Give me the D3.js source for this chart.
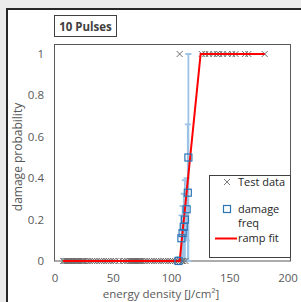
<!DOCTYPE html>
<html>
<head>
<meta charset="utf-8">
<script src="https://cdn.jsdelivr.net/npm/d3@7"></script>
<style>
	body { margin: 0; background: #ebebeb; }
	text { font-family: 'Open Sans', 'Noto Sans', sans-serif; }
</style>
</head>
<body>
<div class="container"></div>
<script>
// test shots that caused no damage (p = 0) and damage (p = 1)
var testZero = [7, 8, 9, 10, 10.5, 11, 12, 12.5, 13, 14, 15, 15.5, 16, 17, 18, 18.5, 19, 20, 21, 22, 23,
	24, 25, 27, 28, 30, 32, 34, 36, 38, 40, 42, 44, 46, 48, 50, 52, 55, 58, 60, 62, 64, 64.5, 65, 66,
	66.5, 67, 68, 68.5, 69, 70, 70.5, 71, 72, 72.5, 73, 74, 75, 77, 79, 81, 83, 85, 87, 89, 91, 93,
	95, 97, 99, 101, 103, 105, 107, 109, 110, 112];
var testOne = [107, 126, 129, 132, 136, 139, 141, 144, 148, 152, 155, 163, 166, 180];

// damage frequency with error bars
var freqEnergy = [106, 108.5, 109.5, 110.5, 111.5, 113, 114, 114.5];
var freqValue = [0, 0.11, 0.135, 0.165, 0.2, 0.25, 0.33, 0.5];
var freqErr = [0.02, 0.11, 0.13, 0.16, 0.19, 0.15, 0.33, 0.5];

// ramp fit
var rampEnergy = [7, 107, 125, 180];
var rampValue = [0, 0, 1, 1];

var xTicks = [0, 50, 100, 150, 200];
var yTicks = [0, 0.2, 0.4, 0.6, 0.8, 1];

var svg = d3
	.select('.container')
	.append('svg')
	.attr('width', 301)
	.attr('height', 302)
	.style('display', 'block');

// outer chart frame
svg.append('rect')
	.attr('x', 7)
	.attr('y', 9)
	.attr('width', 320)
	.attr('height', 320)
	.attr('fill', '#fff')
	.attr('stroke', '#262626')
	.attr('stroke-width', 2);

var x = d3.scaleLinear().domain([0, 200]).range([55, 288]);
var y = d3.scaleLinear().domain([0, 1]).range([261, 54]);

// plot area border
svg.append('rect')
	.attr('x', 54.5)
	.attr('y', 44.5)
	.attr('width', 236)
	.attr('height', 216.5)
	.attr('fill', 'none')
	.attr('stroke', '#595959')
	.attr('stroke-width', 1);

// tick labels
svg.append('g')
	.selectAll('text')
	.data(yTicks)
	.enter()
	.append('text')
	.attr('x', 44)
	.attr('y', function(d) {
		return y(d) + 4;
	})
	.attr('text-anchor', 'end')
	.attr('font-size', 11.5)
	.attr('fill', '#595959')
	.text(function(d) {
		return d;
	});

svg.append('g')
	.selectAll('text')
	.data(xTicks)
	.enter()
	.append('text')
	.attr('x', function(d) {
		return x(d);
	})
	.attr('y', 282)
	.attr('text-anchor', 'middle')
	.attr('font-size', 11.5)
	.attr('fill', '#595959')
	.text(function(d) {
		return d;
	});

// axis titles
svg.append('text')
	.attr('x', 161)
	.attr('y', 297.5)
	.attr('text-anchor', 'middle')
	.attr('font-size', 11.5)
	.attr('fill', '#595959')
	.text('energy density [J/cm²]');

svg.append('text')
	.attr('transform', 'translate(22, 157) rotate(-90)')
	.attr('text-anchor', 'middle')
	.attr('font-size', 12)
	.attr('fill', '#595959')
	.text('damage probability');

// title box
svg.append('rect')
	.attr('x', 54.5)
	.attr('y', 15.5)
	.attr('width', 62)
	.attr('height', 21)
	.attr('fill', '#fff')
	.attr('stroke', '#404040');

svg.append('text')
	.attr('x', 85.5)
	.attr('y', 30.5)
	.attr('text-anchor', 'middle')
	.attr('font-size', 11.5)
	.attr('font-weight', 'bold')
	.attr('fill', '#404040')
	.text('10 Pulses');

// error bars
var errs = svg.append('g')
	.attr('stroke', '#9dc3e6')
	.attr('stroke-width', 1.8)
	.attr('fill', 'none');

freqEnergy.forEach(function(e, i) {
	var lo = Math.max(0, freqValue[i] - freqErr[i]);
	var hi = Math.min(1, freqValue[i] + freqErr[i]);
	errs.append('path')
		.attr('d', 'M' + x(e) + ',' + y(lo) + 'V' + y(hi) +
			'M' + (x(e) - 3) + ',' + y(hi) + 'h6' +
			'M' + (x(e) - 3) + ',' + y(lo) + 'h6');
});

// test data crosses
var allTests = testZero.map(function(d) {
	return { e: d, p: 0 };
}).concat(testOne.map(function(d) {
	return { e: d, p: 1 };
}));

svg.append('g')
	.selectAll('path')
	.data(allTests)
	.enter()
	.append('path')
	.attr('d', function(d) {
		var cx = x(d.e), cy = y(d.p);
		return 'M' + (cx - 3) + ',' + (cy - 3) + 'l6,6M' + (cx - 3) + ',' + (cy + 3) + 'l6,-6';
	})
	.attr('stroke', '#6e6e6e')
	.attr('stroke-width', 1)
	.attr('fill', 'none');

// ramp fit
var line = d3.line()
	.x(function(d, i) {
		return x(rampEnergy[i]);
	})
	.y(function(d, i) {
		return y(rampValue[i]);
	});

svg.append('path')
	.attr('d', line(rampEnergy))
	.attr('stroke', '#ff0000')
	.attr('stroke-width', 2)
	.attr('fill', 'none');

// damage freq squares
svg.append('g')
	.selectAll('rect')
	.data(freqEnergy)
	.enter()
	.append('rect')
	.attr('x', function(d) {
		return x(d) - 3.5;
	})
	.attr('y', function(d, i) {
		return y(freqValue[i]) - 3.5;
	})
	.attr('width', 7)
	.attr('height', 7)
	.attr('fill', 'none')
	.attr('stroke', '#2e75b6')
	.attr('stroke-width', 1.2);

// legend
var leg = svg.append('g');
leg.append('rect')
	.attr('x', 209.5)
	.attr('y', 175.5)
	.attr('width', 81)
	.attr('height', 82)
	.attr('fill', '#fff')
	.attr('stroke', '#404040');

leg.append('path')
	.attr('d', 'M224,179l6,6M224,185l6,-6')
	.attr('stroke', '#7a7a7a')
	.attr('fill', 'none');
leg.append('rect')
	.attr('x', 223.5)
	.attr('y', 205.5)
	.attr('width', 7)
	.attr('height', 7)
	.attr('fill', 'none')
	.attr('stroke', '#2e75b6')
	.attr('stroke-width', 1.2);
leg.append('path')
	.attr('d', 'M215,238.5H237')
	.attr('stroke', '#ff0000')
	.attr('stroke-width', 2);

var legText = [['Test data', 186], ['damage', 213], ['freq', 227], ['ramp fit', 242]];
leg.selectAll('text')
	.data(legText)
	.enter()
	.append('text')
	.attr('x', 238)
	.attr('y', function(d) {
		return d[1];
	})
	.attr('font-size', 11)
	.attr('fill', '#262626')
	.text(function(d) {
		return d[0];
	});
</script>
</body>
</html>
